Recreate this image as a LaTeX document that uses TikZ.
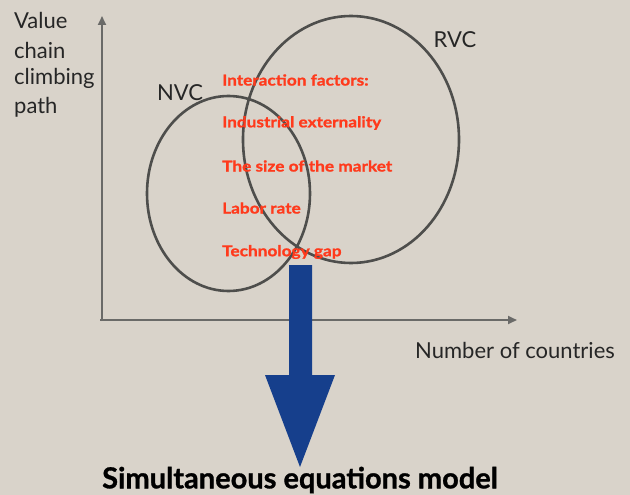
\documentclass[tikz,border=0pt]{standalone}
\usepackage{fontspec}
\setmainfont{Lato}
\newfontfamily\redfont[BoldFont={Lato Bold}, BoldFeatures={FakeStretch=1.15, FakeBold=1.2}]{Lato}
\newfontfamily\modelfont[BoldFont={Lato Bold}, BoldFeatures={FakeBold=1.0}]{Lato}
\usetikzlibrary{arrows.meta}
\definecolor{bg}{HTML}{D9D3CA}
\definecolor{axisgrey}{HTML}{6A6A68}
\definecolor{ellgrey}{HTML}{4E4E4C}
\definecolor{redtxt}{HTML}{FF3A1C}
\definecolor{arrowblue}{HTML}{163F8C}
\tikzset{
  lbl/.style={font=\fontsize{22}{22}\selectfont, text=black!85, inner sep=0pt},
  factor/.style={font=\redfont\fontsize{15}{15}\selectfont\bfseries, text=redtxt, inner sep=0pt, anchor=west},
  axisline/.style={draw=axisgrey, line width=2.2pt},
  vennell/.style={draw=ellgrey, line width=2.6pt},
}
\begin{document}
\begin{tikzpicture}[x=1pt,y=-1pt]
\fill[bg] (0,0) rectangle (630,495);
\useasboundingbox (0,0) rectangle (630,495);
% axes
\coordinate (origin) at (102,320);
\coordinate (ytip) at (102,16);
\coordinate (xtip) at (517,320);
\draw[axisline, -{Triangle[length=9pt,width=8pt]}] (102,321) -- (ytip);
\draw[axisline, -{Triangle[length=9pt,width=8pt]}] (100,320) -- (xtip);
% axis labels
\node[lbl, anchor=west] (v1) at (14,20) {Value};
\node[lbl, anchor=west] (v2) at (14,50) {chain};
\node[lbl, anchor=west] (v3) at (14,78) {climbing};
\node[lbl, anchor=west] (v4) at (14,107) {path};
\node[lbl] (xl) at (515,350) {Number of countries};
% ellipses
\draw[vennell] (228.5,193.5) ellipse [x radius=81.5, y radius=97.5];
\draw[vennell] (351,139.5) ellipse [x radius=108, y radius=123.5];
\node[lbl] (nvc) at (180,93) {NVC};
\node[lbl] (rvc) at (455,40) {RVC};
% factors
\node[factor] (f0) at (222,80) {Interaction factors:};
\node[factor] (f1) at (222,123) {Industrial externality};
\node[factor] (f2) at (222,166) {The size of the market};
\node[factor] (f3) at (222,208) {Labor rate};
\node[factor] (f4) at (222,252) {Technology gap};
% big arrow
\fill[arrowblue] (289,265) -- (312,265) -- (312,375) -- (335,375) -- (300,467) -- (265,375) -- (289,375) -- cycle;
\node[font=\modelfont\fontsize{29}{29}\selectfont\bfseries, text=black, inner sep=0pt] (model) at (300,480) {Simultaneous equations model};
\end{tikzpicture}
\end{document}
